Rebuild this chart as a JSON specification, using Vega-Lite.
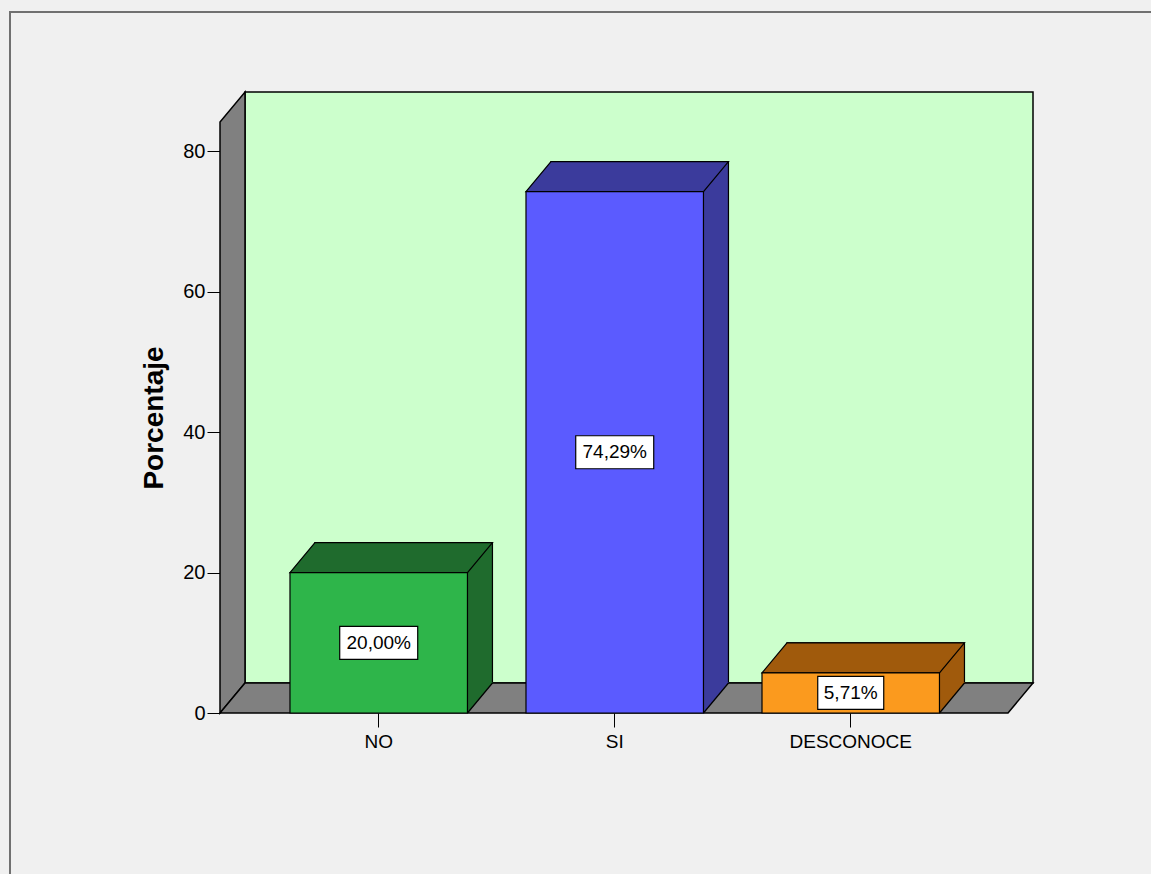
{
  "$schema": "https://vega.github.io/schema/vega-lite/v6.json",
  "width": 813,
  "height": 621,
  "autosize": "none",
  "padding": {"left": 220, "top": 92, "right": 118, "bottom": 161},
  "background": "#f0f0f0",
  "config": {
    "view": {"stroke": null},
    "font": "Liberation Sans",
    "axisX": {"domain": false, "grid": false, "tickColor": "#000", "tickSize": 14, "tickWidth": 1, "labelFontSize": 19, "labelColor": "#000", "labelPadding": 5, "labelFont": "Liberation Sans", "labelAngle": 0},
    "axisY": {"domain": false, "grid": false, "tickColor": "#000", "tickSize": 13, "tickWidth": 1, "labelFontSize": 20, "labelColor": "#000", "labelPadding": 2, "labelFont": "Liberation Sans", "titleFontSize": 28, "titleFontWeight": "bold", "titleColor": "#000", "titleFont": "Liberation Sans", "titlePadding": 14, "titleY": 325.5}
  },
  "data": {"values": [
    {"cat": "NO", "value": 20.0, "label": "20,00%"},
    {"cat": "SI", "value": 74.29, "label": "74,29%"},
    {"cat": "DESCONOCE", "value": 5.71, "label": "5,71%"}
  ]},
  "resolve": {"scale": {"y": "independent"}},
  "layer": [
    {
      "resolve": {"scale": {"fill": "independent"}},
      "layer": [
        {
          "data": {"values": [{}]},
          "mark": {"type": "point", "shape": "M -616.5 800 L -616.5 -390.5 L 800 -390.5", "size": 4, "filled": false, "fill": null, "stroke": "#707070", "strokeWidth": 2, "opacity": 1},
          "encoding": {}
        },
        {
          "data": {"values": [{}]},
          "mark": {"type": "point", "shape": "M -381.5 -310.5 L 406.5 -310.5 L 406.5 280.5 L -381.5 280.5 Z", "size": 4, "filled": true, "fill": "#ccffcc", "stroke": "#000", "strokeWidth": 1.5, "opacity": 1},
          "encoding": {}
        },
        {
          "data": {"values": [{}]},
          "mark": {"type": "point", "shape": "M -406.5 310.5 L -406.5 -280.5 L -381.5 -310.5 L -381.5 280.5 Z", "size": 4, "filled": true, "fill": "#808080", "stroke": "#000", "strokeWidth": 1.5, "opacity": 1},
          "encoding": {}
        },
        {
          "data": {"values": [{}]},
          "mark": {"type": "point", "shape": "M -406.5 310.5 L 381.5 310.5 L 406.5 280.5 L -381.5 280.5 Z", "size": 4, "filled": true, "fill": "#808080", "stroke": "#000", "strokeWidth": 1.5, "opacity": 1},
          "encoding": {}
        },
        {
          "mark": {"type": "bar", "xOffset": 25, "yOffset": -30, "y2Offset": -30, "stroke": "#000", "strokeWidth": 1.2},
          "encoding": {
            "x": {"field": "cat", "type": "nominal", "sort": ["NO", "SI", "DESCONOCE"], "scale": {"type": "band", "domain": ["NO", "SI", "DESCONOCE"], "paddingInner": 0.248, "paddingOuter": 0.3464, "align": 0.428}, "axis": {"title": null}},
            "y": {"field": "value", "type": "quantitative", "scale": {"domain": [0, 88.47], "nice": false}, "axis": {"title": "Porcentaje", "values": [0, 20, 40, 60, 80]}},
            "fill": {"field": "cat", "type": "nominal", "scale": {"domain": ["NO", "SI", "DESCONOCE"], "range": ["#1f6b2d", "#3b3b9c", "#a05a0c"]}, "legend": null}
          }
        },
        {
          "mark": {"type": "point", "shape": "M 87 0.5 L 88.75 0.5 L 113.75 -30 L 113.75 -31 L 87 -31 Z", "size": 4, "filled": true, "strokeWidth": 0, "opacity": 1},
          "encoding": {
            "x": {"field": "cat", "type": "nominal", "sort": ["NO", "SI", "DESCONOCE"], "axis": {"title": null}},
            "y": {"datum": 0, "type": "quantitative", "axis": {"title": "Porcentaje", "values": [0, 20, 40, 60, 80]}},
            "fill": {"field": "cat", "type": "nominal", "scale": {"domain": ["NO", "SI", "DESCONOCE"], "range": ["#1f6b2d", "#3b3b9c", "#a05a0c"]}, "legend": null}
          }
        },
        {
          "mark": {"type": "point", "shape": "M 88.75 0 L 113.75 -30", "size": 4, "filled": false, "fill": null, "stroke": "#000", "strokeWidth": 1.2, "opacity": 1},
          "encoding": {
            "x": {"field": "cat", "type": "nominal", "sort": ["NO", "SI", "DESCONOCE"], "axis": {"title": null}},
            "y": {"datum": 0, "type": "quantitative", "axis": {"title": "Porcentaje", "values": [0, 20, 40, 60, 80]}}
          }
        },
        {
          "mark": {"type": "point", "shape": "M -88.75 0 L 88.75 0 L 113.75 -30 L -63.75 -30 Z", "size": 4, "filled": true, "stroke": "#000", "strokeWidth": 1.2, "opacity": 1},
          "encoding": {
            "x": {"field": "cat", "type": "nominal", "sort": ["NO", "SI", "DESCONOCE"], "axis": {"title": null}},
            "y": {"field": "value", "type": "quantitative", "axis": {"title": "Porcentaje", "values": [0, 20, 40, 60, 80]}},
            "fill": {"field": "cat", "type": "nominal", "scale": {"domain": ["NO", "SI", "DESCONOCE"], "range": ["#1f6b2d", "#3b3b9c", "#a05a0c"]}, "legend": null}
          }
        },
        {
          "mark": {"type": "bar", "stroke": "#000", "strokeWidth": 1.2},
          "encoding": {
            "x": {"field": "cat", "type": "nominal", "sort": ["NO", "SI", "DESCONOCE"], "axis": {"title": null}},
            "y": {"field": "value", "type": "quantitative", "axis": {"title": "Porcentaje", "values": [0, 20, 40, 60, 80]}},
            "fill": {"field": "cat", "type": "nominal", "scale": {"domain": ["NO", "SI", "DESCONOCE"], "range": ["#2eb54a", "#5b5bff", "#fb9a1e"]}, "legend": null}
          }
        }
      ]
    },
    {
      "resolve": {"scale": {"shape": "independent"}},
      "layer": [
        {
          "mark": {"type": "point", "size": 4, "filled": true, "fill": "#ffffff", "stroke": "#000", "strokeWidth": 1.2, "opacity": 1},
          "encoding": {
            "x": {"field": "cat", "type": "nominal", "sort": ["NO", "SI", "DESCONOCE"], "axis": {"title": null}},
            "y": {"field": "value", "type": "quantitative", "scale": {"domain": [0, 176.94], "nice": false}, "axis": null},
            "shape": {"field": "cat", "type": "nominal", "scale": {"domain": ["NO", "SI", "DESCONOCE"], "range": ["M -39 -16.5 L 39 -16.5 L 39 16.5 L -39 16.5 Z", "M -39 -16.5 L 39 -16.5 L 39 16.5 L -39 16.5 Z", "M -33 -16.5 L 33 -16.5 L 33 16.5 L -33 16.5 Z"]}, "legend": null}
          }
        },
        {
          "mark": {"type": "text", "fontSize": 19, "align": "center", "baseline": "middle", "color": "#000", "font": "Liberation Sans"},
          "encoding": {
            "x": {"field": "cat", "type": "nominal", "sort": ["NO", "SI", "DESCONOCE"], "axis": {"title": null}},
            "y": {"field": "value", "type": "quantitative", "axis": null},
            "text": {"field": "label", "type": "nominal"}
          }
        }
      ]
    }
  ]
}
